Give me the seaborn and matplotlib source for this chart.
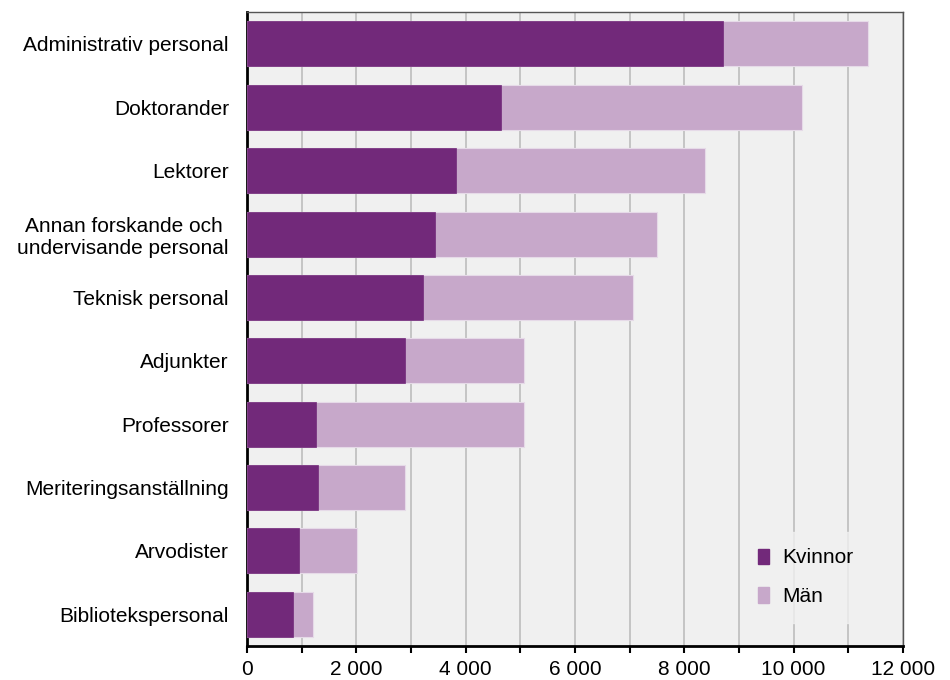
import matplotlib
matplotlib.use("Agg")
import matplotlib.pyplot as plt
from matplotlib.patches import Patch
from matplotlib.ticker import MultipleLocator, FuncFormatter
import seaborn as sns
import pandas as pd

categories = ["Administrativ personal", "Doktorander", "Lektorer",
              "Annan forskande och \nundervisande personal", "Teknisk personal",
              "Adjunkter", "Professorer", "Meriteringsanställning",
              "Arvodister", "Bibliotekspersonal"]
kvinnor = [8713, 4654, 3816, 3447, 3212, 2885, 1258, 1300, 948, 839]
man = [2650, 5493, 4562, 4058, 3849, 2180, 3807, 1585, 1056, 369]
series_names = ["Kvinnor", "Män"]

dark = "#72297a"
light = "#c7a8ca"
fs = 15

sns.set_theme(style="white")
plt.rcParams["font.family"] = ["Liberation Sans", "DejaVu Sans"]
plt.rcParams["text.color"] = "black"
plt.rcParams["xtick.color"] = "black"
plt.rcParams["ytick.color"] = "black"

df = pd.DataFrame({"cat": categories, "Kvinnor": kvinnor, "Män": man})
df["total"] = df["Kvinnor"] + df["Män"]

fig = plt.figure(figsize=(9.5, 6.8), dpi=100)
ax = fig.add_axes([0.26, 0.05, 0.6905, 0.932])
ax.set_facecolor("#f0f0f0")

sns.barplot(data=df, y="cat", x="total", color=light, saturation=1, orient="h", width=0.71,
            edgecolor="#e6dae8", linewidth=0.8, ax=ax, zorder=3)
sns.barplot(data=df, y="cat", x="Kvinnor", color=dark, saturation=1, orient="h", width=0.71,
            edgecolor=dark, linewidth=0.5, ax=ax, zorder=4)

ax.set_xlim(0, 12000)
ax.xaxis.set_major_locator(MultipleLocator(2000))
ax.xaxis.set_minor_locator(MultipleLocator(1000))
ax.xaxis.set_major_formatter(FuncFormatter(lambda v, _: f"{int(v):,}".replace(",", " ")))
ax.grid(axis="x", which="both", color="#b8b8b8", linewidth=1.1, zorder=0)
ax.set_axisbelow(True)
ax.set_xlabel("")
ax.set_ylabel("")

ax.tick_params(axis="x", which="both", direction="out", length=5, width=1.5,
               color="black", labelcolor="black", labelsize=fs, pad=5, bottom=True)
ax.tick_params(axis="y", length=0, labelsize=fs, labelcolor="black", pad=13)

for side in ["left", "bottom"]:
    ax.spines[side].set_color("black")
    ax.spines[side].set_linewidth(2)
for side in ["top", "right"]:
    ax.spines[side].set_color("#555555")
    ax.spines[side].set_linewidth(1)

handles = [Patch(facecolor=dark, edgecolor=dark, label=series_names[0]),
           Patch(facecolor=light, edgecolor=light, label=series_names[1])]
leg = ax.legend(handles=handles, loc="lower right", bbox_to_anchor=(0.965, 0.02),
                frameon=True, facecolor="#f0f0f0", edgecolor="#f0f0f0",
                fontsize=fs, handlelength=0.55, handleheight=0.75,
                handletextpad=0.6, labelspacing=0.95, borderpad=0.8)
for t in leg.get_texts():
    t.set_color("black")
leg.set_zorder(5)

fig.savefig("out.png", dpi=100, facecolor="white")
